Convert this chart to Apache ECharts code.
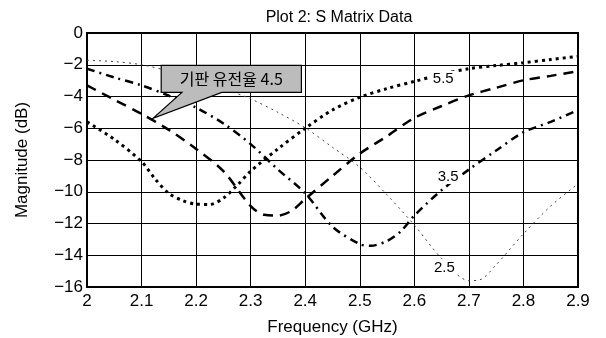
<!DOCTYPE html>
<html>
<head>
<meta charset="utf-8">
<script src="https://cdn.jsdelivr.net/npm/echarts@6/dist/echarts.min.js"></script>
<style>
  html, body { margin: 0; padding: 0; background: #fff; }
  #chart { width: 606px; height: 338px; }
</style>
</head>
<body>
<div id="chart"></div>
<script>
// 기판 유전율 5.5 (굵은 점선)
const freq55 = [2.0, 2.05, 2.1, 2.125, 2.15, 2.175, 2.2, 2.225, 2.25, 2.275, 2.3, 2.35, 2.4, 2.45, 2.5, 2.55, 2.6, 2.65, 2.7, 2.75, 2.8, 2.85, 2.9]
const mag55 = [-5.6, -6.7, -8.1, -9.2, -10.1, -10.55, -10.78, -10.8, -10.4, -9.6, -8.7, -7.3, -6.0, -4.85, -4.05, -3.5, -3.05, -2.6, -2.25, -2.05, -1.87, -1.67, -1.47]
// 4.5 (파선)
const freq45 = [2.0, 2.05, 2.1, 2.15, 2.2, 2.25, 2.3, 2.325, 2.35, 2.375, 2.4, 2.45, 2.5, 2.55, 2.6, 2.65, 2.7, 2.75, 2.8, 2.85, 2.9]
const mag45 = [-3.3, -4.2, -5.1, -6.1, -7.3, -8.7, -10.9, -11.45, -11.5, -11.2, -10.45, -9.0, -7.6, -6.5, -5.35, -4.6, -3.93, -3.45, -2.98, -2.7, -2.4]
// 3.5 (일점쇄선)
const freq35 = [2.0, 2.05, 2.1, 2.15, 2.2, 2.25, 2.3, 2.35, 2.4, 2.45, 2.5, 2.52, 2.55, 2.575, 2.6, 2.65, 2.7, 2.75, 2.8, 2.85, 2.9]
const mag35 = [-2.25, -2.8, -3.3, -3.95, -4.7, -5.7, -7.0, -8.6, -10.1, -12.2, -13.3, -13.4, -13.1, -12.5, -11.5, -9.9, -8.6, -7.4, -6.25, -5.6, -4.85]
// 2.5 (가는 점선)
const freq25 = [2.0, 2.05, 2.1, 2.15, 2.2, 2.25, 2.3, 2.35, 2.4, 2.45, 2.5, 2.55, 2.6, 2.65, 2.7, 2.72, 2.75, 2.8, 2.85, 2.9]
const mag25 = [-1.72, -1.8, -2.0, -2.4, -2.95, -3.5, -4.15, -5.0, -5.97, -7.2, -8.45, -10.2, -12.1, -14.2, -15.6, -15.55, -14.6, -12.65, -10.9, -9.5]

const yTicks = [0, -2, -4, -6, -8, -10, -12, -14, -16]
const curveLabels = ['5.5', '3.5', '2.5']
const labelAt = [[2.653, -2.86], [2.662, -9.04], [2.655, -14.78]]
const calloutText = '기판 유전율 4.5'

const font = 'Liberation Sans, Arial, sans-serif'
const pair = (xs, ys) => xs.map((x, i) => [x, ys[i]])

function tag(i) {
  return {
    silent: true,
    symbol: 'rect',
    symbolSize: 1,
    itemStyle: { color: 'rgba(0,0,0,0)' },
    label: {
      show: true,
      position: 'inside',
      formatter: curveLabels[i],
      color: '#000',
      fontSize: 15,
      fontFamily: font,
      backgroundColor: '#fff',
      padding: [0, 2],
    },
    data: [{ coord: labelAt[i] }],
  }
}

let mycharts = echarts.init(document.getElementById('chart'))
mycharts.setOption({
  animation: false,
  backgroundColor: '#fff',
  title: {
    text: 'Plot 2: S Matrix Data',
    left: 334,
    top: 5,
    textAlign: 'center',
    textStyle: { color: '#000', fontSize: 16, fontWeight: 'normal', fontFamily: font },
  },
  grid: {
    left: 87, right: 28, top: 33, bottom: 51,
    show: true, borderColor: '#000', borderWidth: 2,
    outerBoundsMode: 'none',
  },
  xAxis: {
    type: 'value',
    min: 2, max: 2.9, interval: 0.1,
    name: 'Frequency (GHz)',
    nameLocation: 'middle',
    nameGap: 32,
    nameTextStyle: { color: '#000', fontSize: 17, fontFamily: font },
    axisLine: { show: false },
    axisTick: { show: false },
    axisLabel: {
      color: '#000', fontSize: 17, fontFamily: font, margin: 6,
      formatter: v => String(Math.round(v * 10) / 10),
    },
    splitLine: { show: true, lineStyle: { color: '#000', width: 1 } },
  },
  yAxis: {
    type: 'value',
    min: -16, max: 0, interval: 2,
    name: 'Magnitude (dB)',
    nameLocation: 'middle',
    nameGap: 56,
    nameTextStyle: { color: '#000', fontSize: 17, fontFamily: font },
    axisLine: { show: false },
    axisTick: { show: false },
    axisLabel: {
      color: '#000', fontSize: 17, fontFamily: font, margin: 4,
      formatter: v => yTicks.includes(v) ? String(v).replace('-', '\u2212') : '',
    },
    splitLine: { show: true, lineStyle: { color: '#000', width: 1 } },
  },
  series: [
    {
      name: '2.5', type: 'line', data: pair(freq25, mag25), symbol: 'none', smooth: 0.3,
      lineStyle: { color: '#444', width: 1, type: [2, 4] },
      markPoint: tag(2),
    },
    {
      name: '3.5', type: 'line', data: pair(freq35, mag35), symbol: 'none', smooth: 0.3,
      lineStyle: { color: '#000', width: 2.5, type: [8, 5, 2, 5] },
      markPoint: tag(1),
    },
    {
      name: '4.5', type: 'line', data: pair(freq45, mag45), symbol: 'none', smooth: 0.3,
      lineStyle: { color: '#000', width: 2.5, type: [10, 7] },
    },
    {
      name: '5.5', type: 'line', data: pair(freq55, mag55), symbol: 'none', smooth: 0.3,
      lineStyle: { color: '#000', width: 3, type: [3, 4] },
      markPoint: tag(0),
    },
  ],
})

// 말풍선 (callout) — 데이터 좌표를 픽셀로 변환
const px = p => mycharts.convertToPixel({ gridIndex: 0 }, p)
const tl = px([2.136, -2.04])
const br = px([2.393, -3.74])
const tip = px([2.121, -5.38])
const bl = px([2.174, -3.74])
const bri = px([2.247, -3.74])
mycharts.setOption({
  graphic: [
    {
      type: 'polygon',
      z: 100,
      shape: {
        points: [
          [tl[0], tl[1]], [br[0], tl[1]], [br[0], br[1]],
          [bri[0], br[1]], [tip[0], tip[1]], [bl[0], br[1]], [tl[0], br[1]],
        ],
      },
      style: { fill: '#bcbcbc', stroke: '#000', lineWidth: 1.2 },
    },
    {
      type: 'text',
      z: 101,
      x: (tl[0] + br[0]) / 2,
      y: (tl[1] + br[1]) / 2,
      style: {
        text: calloutText,
        fill: '#000',
        font: '16px "Noto Sans CJK KR", sans-serif',
        align: 'center',
        verticalAlign: 'middle',
      },
    },
  ],
})
</script>
</body>
</html>
